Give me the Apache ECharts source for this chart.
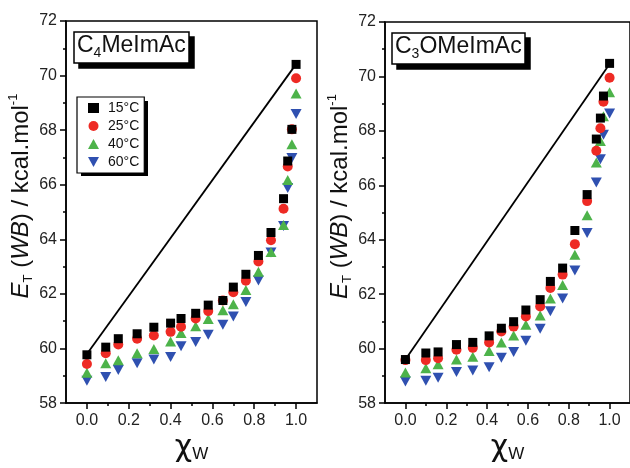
<!DOCTYPE html>
<html>
<head>
<meta charset="utf-8">
<script src="https://cdn.jsdelivr.net/npm/echarts@6/dist/echarts.min.js"></script>
<style>
  html, body { margin: 0; padding: 0; background: #fff; }
  #chart { width: 630px; height: 468px; }
</style>
</head>
<body>
<div id="chart"></div>
<script>
// mole fraction of water
const xLeft = [0, 0.09, 0.15, 0.24, 0.32, 0.40, 0.45, 0.52, 0.58, 0.65, 0.70, 0.76, 0.82, 0.88, 0.94, 0.96, 0.98, 1.0]
const xRight = [0, 0.10, 0.16, 0.25, 0.33, 0.41, 0.47, 0.53, 0.59, 0.66, 0.71, 0.77, 0.83, 0.89, 0.935, 0.955, 0.97, 1.0]

// C4MeImAc
const left15 = [59.77, 60.05, 60.36, 60.54, 60.78, 60.93, 61.10, 61.29, 61.59, 61.76, 62.25, 62.72, 63.41, 64.25, 65.49, 66.87, 68.03, 70.41]
const left25 = [59.43, 59.83, 60.15, 60.36, 60.48, 60.61, 60.80, 61.10, 61.37, 61.76, 62.06, 62.48, 63.19, 63.97, 65.12, 66.67, 68.03, 69.90]
const left40 = [59.11, 59.46, 59.57, 59.83, 59.98, 60.26, 60.57, 60.82, 61.08, 61.40, 61.62, 62.14, 62.81, 63.54, 64.53, 66.17, 67.48, 69.34]
const left60 = [58.82, 58.96, 59.21, 59.46, 59.60, 59.69, 60.08, 60.24, 60.50, 60.87, 61.17, 61.70, 62.49, 63.52, 64.49, 65.88, 66.98, 68.59]

// C3OMeImAc
const right15 = [59.60, 59.84, 59.88, 60.15, 60.23, 60.47, 60.75, 60.99, 61.42, 61.80, 62.47, 62.96, 64.34, 65.66, 67.70, 68.47, 69.28, 70.48]
const right25 = [59.58, 59.58, 59.65, 59.96, 60.03, 60.23, 60.63, 60.81, 61.18, 61.55, 62.23, 62.72, 63.84, 65.42, 67.27, 68.10, 69.07, 69.95]
const right40 = [59.12, 59.28, 59.43, 59.60, 59.70, 59.91, 60.23, 60.48, 60.88, 61.22, 61.84, 62.34, 63.45, 64.90, 66.84, 67.63, 68.54, 69.42]
const right60 = [58.79, 58.82, 58.93, 59.14, 59.20, 59.32, 59.67, 59.88, 60.29, 60.73, 61.37, 61.84, 62.87, 64.25, 66.10, 66.96, 67.86, 68.64]

// ideal straight line between the pure components
const idealX = [0, 1]
const idealLeft = [59.8, 70.42]
const idealRight = [59.6, 70.46]

const tempNames = ['15°C', '25°C', '40°C', '60°C']
const xMajorTicks = [0, 0.2, 0.4, 0.6, 0.8, 1.0]
const xMinorTicks = [0.1, 0.3, 0.5, 0.7, 0.9]

const font = 'Liberation Sans, Arial, sans-serif'
const colors = ['#000000', '#ee2a24', '#4db34a', '#2f50b0']
const symbols = ['rect', 'circle', 'triangle', 'path://M0,0 L10,0 L5,9 Z']
const sizes = [9, 10, [11, 10], [11, 10]]

function zip(xs, ys) {
  return xs.map((x, i) => [x, ys[i]])
}

function xAxes(gridIndex) {
  return [
    {
      type: 'value',
      gridIndex: gridIndex,
      min: -0.1,
      max: 1.1,
      name: '{chi|χ}{w|W}',
      nameLocation: 'middle',
      nameGap: 22,
      nameTextStyle: {
        rich: {
          chi: { fontSize: 30, fontFamily: 'DejaVu Sans, sans-serif', color: '#111', lineHeight: 30 },
          w: { fontSize: 17, fontFamily: font, color: '#111', verticalAlign: 'bottom', lineHeight: 30 }
        }
      },
      axisLine: { show: true, onZero: false, lineStyle: { color: '#000', width: 1.5 } },
      axisTick: { show: true, inside: false, length: 6, lineStyle: { color: '#000', width: 1.5 }, customValues: xMajorTicks },
      axisLabel: {
        customValues: xMajorTicks,
        margin: 9,
        fontSize: 16,
        fontFamily: font,
        color: '#222',
        formatter: (v) => v.toFixed(1)
      },
      splitLine: { show: false }
    },
    {
      // minor ticks only
      type: 'value',
      gridIndex: gridIndex,
      min: -0.1,
      max: 1.1,
      position: 'bottom',
      axisLine: { show: false, onZero: false },
      axisTick: { show: true, inside: false, length: 3, lineStyle: { color: '#000', width: 1.5 }, customValues: xMinorTicks },
      axisLabel: { show: false },
      splitLine: { show: false }
    }
  ]
}

function yAxis(gridIndex) {
  return {
    type: 'value',
    gridIndex: gridIndex,
    min: 58,
    max: 72,
    interval: 2,
    name: '{i|E}{s|T}{n| (}{i|WB}{n|) / kcal.mol}{p|-1}',
    nameLocation: 'middle',
    nameRotate: 90,
    nameGap: 29,
    nameTextStyle: {
      padding: [0, 0, 0, 32],
      rich: {
        i: { fontSize: 24, fontFamily: font, fontStyle: 'italic', color: '#111', lineHeight: 28 },
        n: { fontSize: 24, fontFamily: font, color: '#111', lineHeight: 28 },
        s: { fontSize: 13, fontFamily: font, color: '#111', verticalAlign: 'bottom', lineHeight: 28 },
        p: { fontSize: 13, fontFamily: font, color: '#111', verticalAlign: 'top', lineHeight: 28 }
      }
    },
    axisLine: { show: true, onZero: false, lineStyle: { color: '#000', width: 1.5 } },
    axisTick: { show: true, inside: false, length: 6, lineStyle: { color: '#000', width: 1.5 } },
    minorTick: { show: true, splitNumber: 2, length: 3, lineStyle: { color: '#000', width: 1.5 } },
    axisLabel: { margin: 9, fontSize: 16, fontFamily: font, color: '#222' },
    splitLine: { show: false }
  }
}

function panelSeries(gridIndex, xs, ys, ideal) {
  const axisX = gridIndex * 2
  const list = [{
    type: 'line',
    xAxisIndex: axisX,
    yAxisIndex: gridIndex,
    data: zip(idealX, ideal),
    symbol: 'none',
    silent: true,
    z: 1,
    lineStyle: { color: '#000', width: 1.8 }
  }]
  ys.forEach((data, k) => {
    list.push({
      name: tempNames[k],
      type: 'scatter',
      xAxisIndex: axisX,
      yAxisIndex: gridIndex,
      data: zip(xs, data),
      symbol: symbols[k],
      symbolSize: sizes[k],
      itemStyle: { color: colors[k], opacity: 1 },
      z: 10 - k
    })
  })
  return list
}

// box title; a black copy, offset, works as the drop shadow
function titleBox(text, left, top, shadow) {
  const textColor = shadow ? 'transparent' : '#111'
  return {
    text: text,
    left: shadow ? left + 5 : left,
    top: shadow ? top + 5 : top,
    z: shadow ? 5 : 6,
    padding: [2, 4, 3, 3],
    backgroundColor: shadow ? '#000' : '#fff',
    borderColor: '#000',
    borderWidth: 1.5,
    textStyle: {
      fontWeight: 'normal',
      rich: {
        a: { fontSize: 23, fontFamily: font, fontWeight: 'normal', color: textColor, lineHeight: 29 },
        b: { fontSize: 14, fontFamily: font, fontWeight: 'normal', color: textColor, verticalAlign: 'bottom', lineHeight: 29 }
      }
    }
  }
}

// black block behind the legend, drawn as one rich-text token
const legendShadow = {
  text: '{blk| }',
  left: 81,
  top: 101,
  z: 5,
  padding: 0,
  textStyle: {
    rich: {
      blk: { width: 67, height: 75, lineHeight: 75, backgroundColor: '#000', color: 'transparent', fontSize: 10 }
    }
  }
}

const option = {
  animation: false,
  backgroundColor: '#fff',
  title: [
    titleBox('{a|C}{b|4}{a|MeImAc}', 74, 29, true),
    titleBox('{a|C}{b|4}{a|MeImAc}', 74, 29, false),
    titleBox('{a|C}{b|3}{a|OMeImAc}', 392, 30, true),
    titleBox('{a|C}{b|3}{a|OMeImAc}', 392, 30, false),
    legendShadow
  ],
  graphic: {
    elements: [{
      type: 'rect',
      z: 4,
      shape: { x: 81, y: 101, width: 67, height: 75 },
      style: { fill: '#000' }
    }]
  },
  legend: {
    data: tempNames,
    orient: 'vertical',
    left: 77,
    top: 97,
    z: 7,
    itemWidth: 11,
    itemHeight: 10,
    itemGap: 4,
    padding: [4, 5, 4, 11],
    backgroundColor: '#fff',
    borderColor: '#000',
    borderWidth: 1.2,
    selectedMode: false,
    textStyle: { fontSize: 14, fontFamily: font, color: '#111', padding: [0, 0, 0, 4] }
  },
  grid: [
    { left: 66, top: 21, width: 251, height: 399, show: true, borderColor: '#000', borderWidth: 1.5, backgroundColor: 'transparent' },
    { left: 385, top: 22, width: 251, height: 397, show: true, borderColor: '#000', borderWidth: 1.5, backgroundColor: 'transparent' }
  ],
  xAxis: xAxes(0).concat(xAxes(1)),
  yAxis: [yAxis(0), yAxis(1)],
  series: panelSeries(0, xLeft, [left15, left25, left40, left60], idealLeft)
    .concat(panelSeries(1, xRight, [right15, right25, right40, right60], idealRight))
}

const myChart = echarts.init(document.getElementById('chart'))
myChart.setOption(option)
</script>
</body>
</html>
